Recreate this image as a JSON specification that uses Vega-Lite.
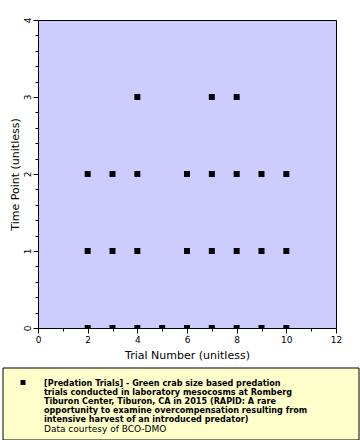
{
  "$schema": "https://vega.github.io/schema/vega-lite/v6.json",
  "padding": {"left": 2, "top": 16, "right": 0, "bottom": 0},
  "background": "white",
  "config": {
    "font": "DejaVu Sans",
    "axis": {"grid": false, "domainColor": "black", "tickColor": "black", "labelColor": "black", "titleColor": "black", "titleFontWeight": "normal"}
  },
  "datasets": {
    "points": [
      {"trial": 2, "time": 0}, {"trial": 3, "time": 0}, {"trial": 4, "time": 0}, {"trial": 5, "time": 0}, {"trial": 6, "time": 0}, {"trial": 7, "time": 0}, {"trial": 8, "time": 0}, {"trial": 9, "time": 0}, {"trial": 10, "time": 0},
      {"trial": 2, "time": 1}, {"trial": 3, "time": 1}, {"trial": 4, "time": 1}, {"trial": 6, "time": 1}, {"trial": 7, "time": 1}, {"trial": 8, "time": 1}, {"trial": 9, "time": 1}, {"trial": 10, "time": 1},
      {"trial": 2, "time": 2}, {"trial": 3, "time": 2}, {"trial": 4, "time": 2}, {"trial": 6, "time": 2}, {"trial": 7, "time": 2}, {"trial": 8, "time": 2}, {"trial": 9, "time": 2}, {"trial": 10, "time": 2},
      {"trial": 4, "time": 3}, {"trial": 7, "time": 3}, {"trial": 8, "time": 3}
    ],
    "legend": [
      {"line": 1, "text": "[Predation Trials] -  Green crab size based predation", "kind": "series"},
      {"line": 2, "text": "trials conducted in laboratory mesocosms at Romberg", "kind": "series"},
      {"line": 3, "text": "Tiburon Center, Tiburon, CA in 2015 (RAPID: A rare", "kind": "series"},
      {"line": 4, "text": "opportunity to examine overcompensation resulting from", "kind": "series"},
      {"line": 5, "text": "intensive harvest of an introduced predator)", "kind": "series"},
      {"line": 6, "text": "Data courtesy of BCO-DMO", "kind": "credit"}
    ]
  },
  "vconcat": [
    {
      "width": 298,
      "height": 308,
      "data": {"name": "points"},
      "view": {"fill": "#ccccff", "stroke": "black", "strokeWidth": 1},
      "layer": [
        {
          "mark": {"type": "square", "size": 36, "color": "black", "opacity": 1, "clip": true},
          "encoding": {
            "x": {"field": "trial", "type": "quantitative", "scale": {"domain": [0, 12], "nice": false, "zero": false},
                  "axis": {"orient": "bottom", "values": [0, 2, 4, 6, 8, 10, 12], "tickSize": 5, "labelFontSize": 9, "labelPadding": 2, "title": "Trial Number (unitless)", "titleFontSize": 11, "titlePadding": 5, "labelFlush": false}},
            "y": {"field": "time", "type": "quantitative", "scale": {"domain": [0, 4], "nice": false, "zero": false},
                  "axis": {"orient": "left", "values": [0, 1, 2, 3, 4], "tickSize": 5, "labelFontSize": 9, "labelAngle": -90, "labelAlign": "center", "labelBaseline": "bottom", "labelPadding": 1, "title": "Time Point (unitless)", "titleFontSize": 11, "titlePadding": 3, "labelFlush": false}}
          }
        },
        {
          "mark": {"type": "square", "opacity": 0},
          "encoding": {
            "x": {"field": "trial", "type": "quantitative",
                  "axis": {"orient": "bottom", "values": [1, 3, 5, 7, 9, 11], "tickSize": 3, "labels": false, "domain": false, "title": null}},
            "y": {"field": "time", "type": "quantitative",
                  "axis": {"orient": "left", "values": [0.2, 0.4, 0.6, 0.8, 1.2, 1.4, 1.6, 1.8, 2.2, 2.4, 2.6, 2.8, 3.2, 3.4, 3.6, 3.8], "tickSize": 3, "labels": false, "domain": false, "title": null}}
          }
        }
      ],
      "resolve": {"axis": {"x": "independent", "y": "independent"}}
    },
    {
      "width": 321,
      "height": 72,
      "data": {"name": "legend"},
      "view": {"fill": null, "stroke": null},
      "layer": [
        {
          "transform": [{"filter": "datum.line === 1"}],
          "mark": {"type": "rect", "fill": "#ffffcc", "stroke": "black", "strokeWidth": 1},
          "encoding": {"x": {"value": -35}, "x2": {"value": 321}, "y": {"value": 0}, "y2": {"value": 72}}
        },
        {
          "transform": [{"filter": "datum.kind === 'series'"}],
          "mark": {"type": "text", "align": "left", "baseline": "middle", "font": "DejaVu Sans Condensed", "fontWeight": "bold", "fontSize": 9, "color": "black"},
          "encoding": {
            "x": {"value": 6},
            "y": {"field": "line", "type": "ordinal", "scale": {"type": "point", "padding": 0, "domain": [1, 2, 3, 4, 5, 6], "range": [14.5, 60.5]}, "axis": null},
            "text": {"field": "text"}
          }
        },
        {
          "transform": [{"filter": "datum.kind === 'credit'"}],
          "mark": {"type": "text", "align": "left", "baseline": "middle", "font": "DejaVu Sans", "fontSize": 9, "color": "black"},
          "encoding": {
            "x": {"value": 6},
            "y": {"field": "line", "type": "ordinal", "scale": {"type": "point", "padding": 0, "domain": [1, 2, 3, 4, 5, 6], "range": [14.5, 60.5]}, "axis": null},
            "text": {"field": "text"}
          }
        },
        {
          "transform": [{"filter": "datum.line === 1"}],
          "mark": {"type": "square", "size": 25, "color": "black", "opacity": 1},
          "encoding": {
            "x": {"value": -15},
            "y": {"field": "line", "type": "ordinal", "scale": {"type": "point", "padding": 0, "domain": [1, 2, 3, 4, 5, 6], "range": [14.5, 60.5]}, "axis": null}
          }
        }
      ]
    }
  ],
  "spacing": 6
}
